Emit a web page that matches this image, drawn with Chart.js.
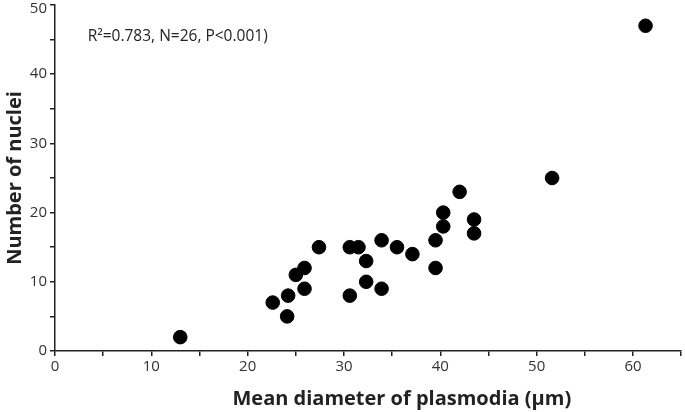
<!DOCTYPE html>
<html>
<head>
<meta charset="utf-8">
<script src="https://cdn.jsdelivr.net/npm/chart.js@4"></script>
<style>
  html, body { margin: 0; padding: 0; background: #fff; overflow: hidden; }
  #wrap { position: relative; width: 685px; height: 412px; overflow: hidden; }
  #myChart { position: absolute; left: 0; top: -7px; }
</style>
</head>
<body>
<div id="wrap"><canvas id="myChart" width="689" height="419"></canvas></div>
<script>
// mean diameter of plasmodia (µm) and number of nuclei
const diameters = [13.0, 22.6, 24.1, 24.2, 25.9, 25.0, 25.9, 27.4, 30.6, 30.6, 31.5, 32.3, 32.3,
  33.9, 33.9, 35.5, 37.1, 39.5, 39.5, 40.3, 40.3, 42.0, 43.5, 43.5, 51.6, 61.3];
const nuclei = [2, 7, 5, 8, 9, 11, 12, 15, 8, 15, 15, 13, 10,
  16, 9, 15, 14, 16, 12, 18, 20, 23, 19, 17, 25, 47];
const statsText = 'R²=0.783, N=26, P<0.001)';
const xTitle = 'Mean diameter of plasmodia (μm)';
const yMax = 50;

const FONT = "'Open Sans', 'Liberation Sans', sans-serif";
const ctx = document.getElementById('myChart').getContext('2d');

// stats line, the x title (a bit right of centre in the original)
// and the top y label, which sits lower than its tick so it isn't cut off
const extraText = {
  id: 'extraText',
  afterDraw(chart) {
    const { ctx, scales } = chart;
    ctx.save();
    ctx.fillStyle = '#222';
    ctx.textBaseline = 'middle';
    ctx.font = `15.5px ${FONT}`;
    ctx.fillText(statsText, scales.x.getPixelForValue(3.4), scales.y.getPixelForValue(45.4));
    ctx.font = `bold 20px ${FONT}`;
    ctx.textAlign = 'center';
    ctx.fillText(xTitle, scales.x.getPixelForValue(36), scales.x.bottom - 13);
    ctx.font = `15px ${FONT}`;
    ctx.fillStyle = '#333';
    ctx.textAlign = 'right';
    ctx.fillText(String(yMax), scales.y.right - 8, scales.y.getPixelForValue(yMax) + 4);
    ctx.restore();
  }
};

new Chart(ctx, {
  type: 'scatter',
  data: {
    datasets: [{
      data: diameters.map((d, i) => ({ x: d, y: nuclei[i] })),
      backgroundColor: '#000',
      borderColor: '#000',
      pointRadius: 6.8,
      pointHoverRadius: 6.8,
    }],
  },
  options: {
    responsive: false,
    animation: false,
    layout: { padding: 0 },
    plugins: {
      legend: { display: false },
      tooltip: { enabled: false },
    },
    scales: {
      x: {
        type: 'linear',
        min: 0,
        max: 65,
        afterFit: s => { s.height = 61; },
        border: { color: '#222', width: 1.5 },
        grid: { drawOnChartArea: false, tickLength: 5, color: '#222', lineWidth: 1.5 },
        ticks: {
          stepSize: 5,
          color: '#333',
          font: { family: FONT, size: 15 },
          padding: 2,
          maxRotation: 0,
          autoSkip: false,
          callback: v => (v % 10 === 0 ? v : ''),
        },
      },
      y: {
        min: 0,
        max: yMax,
        afterFit: s => { s.width = 55; },
        border: { color: '#222', width: 1.5 },
        grid: { drawOnChartArea: false, tickLength: 5, color: '#222', lineWidth: 1.5 },
        ticks: {
          stepSize: 5,
          color: '#333',
          font: { family: FONT, size: 15 },
          padding: 3,
          autoSkip: false,
          callback: v => (v % 10 === 0 && v !== yMax ? v : ''),
        },
        title: {
          display: true,
          text: 'Number of nuclei',
          color: '#222',
          font: { family: FONT, size: 20, weight: 'bold' },
          padding: { top: 3, bottom: 0 },
        },
      },
    },
  },
  plugins: [extraText],
});
</script>
</body>
</html>
